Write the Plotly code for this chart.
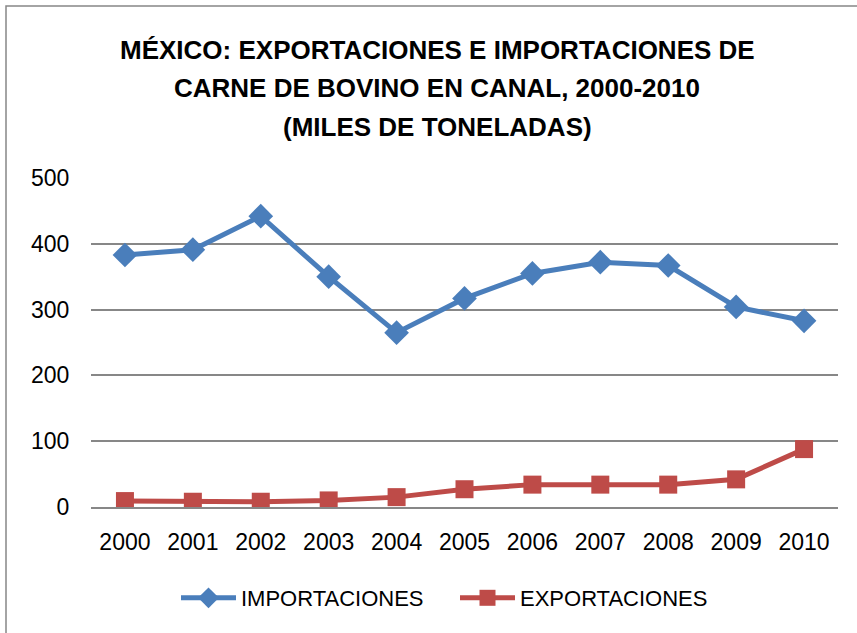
import plotly.graph_objects as go

years = ["2000", "2001", "2002", "2003", "2004", "2005", "2006", "2007", "2008", "2009", "2010"]
importaciones = [383, 391, 442, 350, 265, 317, 355, 372, 367, 304, 283]
exportaciones = [9, 8, 8, 10, 15, 27, 34, 34, 34, 42, 88]
y_ticks = [0, 100, 200, 300, 400, 500]
title_lines = [
    "MÉXICO: EXPORTACIONES E IMPORTACIONES DE",
    "CARNE DE BOVINO EN CANAL, 2000-2010",
    "(MILES DE TONELADAS)",
]

W, H = 857, 633
L, R, T, B = 91, 19, 178, 126
pw, ph = W - L - R, H - T - B

BLUE = "#4A7EBB"
RED = "#BE4B48"
GRID = "#878787"
FONT = "Liberation Sans, Arial, sans-serif"

fig = go.Figure()
fig.add_trace(go.Scatter(
    x=years, y=importaciones, name="IMPORTACIONES", mode="lines+markers",
    line=dict(color=BLUE, width=5),
    marker=dict(symbol="diamond", size=19, color=BLUE),
))
fig.add_trace(go.Scatter(
    x=years, y=exportaciones, name="EXPORTACIONES", mode="lines+markers",
    line=dict(color=RED, width=5),
    marker=dict(symbol="square", size=18, color=RED),
))

def px_x(px):
    return (px - L) / pw

def px_y(py):
    return (H - B - py) / ph

title_y = [50, 88, 127]
annotations = [
    dict(text=t, xref="paper", yref="paper", x=px_x(437), y=px_y(yy),
         xanchor="center", yanchor="middle", showarrow=False,
         font=dict(family=FONT, size=26, color="#000000", weight="bold"))
    for t, yy in zip(title_lines, title_y)
]

fig.update_layout(
    width=W, height=H,
    margin=dict(l=L, r=R, t=T, b=B, pad=0),
    paper_bgcolor="white", plot_bgcolor="white",
    font=dict(family=FONT, color="#000000", size=22),
    showlegend=True,
    legend=dict(
        orientation="h", x=px_x(455), xanchor="center",
        y=px_y(598), yanchor="middle",
        font=dict(size=22, family=FONT), itemwidth=55, traceorder="normal",
        entrywidth=209, entrywidthmode="pixels",
        bgcolor="rgba(0,0,0,0)",
    ),
    xaxis=dict(
        type="category", categoryorder="array", categoryarray=years,
        range=[-0.5, len(years) - 0.5],
        showgrid=False, showline=True, linecolor=GRID, linewidth=2,
        ticks="outside", ticklen=13, tickcolor="rgba(0,0,0,0)",
        tickfont=dict(size=23, family=FONT),
    ),
    yaxis=dict(
        range=[0, 500], tickvals=y_ticks, ticktext=[str(v) for v in y_ticks],
        showgrid=True, gridcolor=GRID, gridwidth=2,
        zeroline=False, showline=False,
        ticks="outside", ticklen=16, tickcolor="rgba(0,0,0,0)",
        tickfont=dict(size=23, family=FONT),
    ),
    annotations=annotations,
    shapes=[dict(
        type="rect", xref="paper", yref="paper",
        x0=px_x(6), x1=px_x(900), y0=px_y(700), y1=px_y(6),
        line=dict(color=GRID, width=1.5), fillcolor="rgba(0,0,0,0)", layer="below",
    )],
)

fig.write_html("out.html", config={"displayModeBar": False},
               post_script="document.body.style.margin='0';")
